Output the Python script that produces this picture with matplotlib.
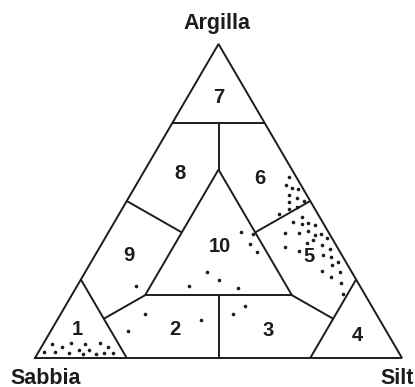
import numpy as np
import matplotlib
matplotlib.use("Agg")
import matplotlib.pyplot as plt

plt.rcParams['font.family'] = ['Liberation Sans', 'DejaVu Sans']

# Sample compositions in percent: sand (Sabbia), silt, clay (Argilla)
sand = [93.2, 90.9, 87.9, 84.2, 79.8, 78.2, 96.7, 93.5, 89.8, 86.8, 83.9, 82.7, 80.3, 77.9, 86.2,
        1.9, 4.1, 3.1, 1.4, 4.8, 3.0, 1.6, 5.9, 4.6, 7.0, 10.6,
        8.1, 6.0, 4.0, 2.5, 12.0, 8.2, 5.5, 4.1, 2.4, 1.5, 7.5, 5.4, 3.9, 14.2, 11.0, 2.2, 5.2,
        3.1, 2.1, 4.4, 8.0, 3.2, 6.3, 4.8, 6.0, 4.8,
        24.0, 20.8, 23.3, 22.6, 39.4, 37.4, 46.6, 33.5,
        61.1, 63.1, 48.8, 70.3, 39.0, 34.3]
silt = [2.4, 5.6, 7.4, 11.4, 15.3, 18.2, 1.5, 4.5, 8.5, 10.7, 13.6, 16.0, 18.0, 20.6, 12.6,
        40.4, 40.8, 42.9, 44.8, 43.3, 46.0, 48.3, 44.5, 47.2, 45.6, 43.6,
        48.5, 51.3, 53.0, 55.1, 48.2, 52.1, 54.1, 56.7, 58.0, 60.4, 55.8, 57.0, 60.1, 50.4, 55.0, 63.0, 62.0,
        64.6, 67.2, 66.0, 64.2, 69.3, 67.8, 71.4, 73.6, 50.2,
        36.0, 39.8, 40.5, 43.8, 33.1, 37.8, 30.5, 44.3,
        16.0, 23.0, 39.1, 21.1, 47.0, 49.0]
clay = [4.4, 3.5, 4.7, 4.4, 4.9, 3.6, 1.8, 2.0, 1.7, 2.5, 2.5, 1.3, 1.7, 1.5, 1.2,
        57.7, 55.1, 54.0, 53.8, 51.9, 51.0, 50.1, 49.6, 48.2, 47.4, 45.8,
        43.4, 42.7, 43.0, 42.4, 39.8, 39.7, 40.4, 39.2, 39.6, 38.1, 36.7, 37.6, 36.0, 35.4, 34.0, 34.8, 32.8,
        32.3, 30.7, 29.6, 27.8, 27.5, 25.9, 23.8, 20.4, 45.0,
        40.0, 39.4, 36.2, 33.6, 27.5, 24.8, 22.9, 22.2,
        22.9, 13.9, 12.1, 8.6, 14.0, 16.7]

# Class numbers and where they are written (x, y in the triangle frame)
class_labels = ['7', '8', '6', '10', '9', '5', '1', '2', '3', '4']
class_pos = [(0.501, 0.831), (0.395, 0.586), (0.613, 0.573), (0.504, 0.354), (0.256, 0.328),
             (0.747, 0.322), (0.114, 0.092), (0.381, 0.092), (0.635, 0.089), (0.877, 0.073)]

# Class boundaries as pairs of (sand, silt, clay) compositions
boundaries = [
    ((25, 0, 75), (0, 25, 75)),          # clay 75 %
    ((12.5, 12.5, 75), (20, 20, 60)),    # 8 | 6
    ((20, 20, 60), (60, 20, 20)),        # central triangle
    ((60, 20, 20), (20, 60, 20)),
    ((20, 60, 20), (20, 20, 60)),
    ((50, 0, 50), (40, 20, 40)),         # 8 | 9
    ((0, 50, 50), (20, 40, 40)),         # 6 | 5
    ((60, 20, 20), (75, 12.5, 12.5)),    # 9 | 2
    ((20, 60, 20), (12.5, 75, 12.5)),    # 5 | 3
    ((40, 40, 20), (50, 50, 0)),         # 2 | 3
    ((75, 25, 0), (75, 0, 25)),          # sand 75 %
    ((0, 75, 25), (25, 75, 0)),          # silt 75 %
]


def tern(sa, si, cl):
    tot = np.asarray(sa, float) + np.asarray(si, float) + np.asarray(cl, float)
    si = np.asarray(si, float) / tot
    cl = np.asarray(cl, float) / tot
    return si + cl / 2.0, cl


W, H = 415, 387
fig = plt.figure(figsize=(W / 100, H / 100), dpi=100)
ax = fig.add_axes([0, 0, 1, 1])
x0, xs = 35, 367
y0, ys = 358, 314
ax.set_xlim(-x0 / xs, (W - x0) / xs)
ax.set_ylim((y0 - H) / ys, y0 / ys)
ax.axis('off')

ink = '#1c1c1c'
lw = 1.4
# outer triangle
ox, oy = tern([100, 0, 0, 100], [0, 100, 0, 0], [0, 0, 100, 0])
ax.plot(ox, oy, color=ink, lw=lw, solid_joinstyle='miter', clip_on=False)

for a, b in boundaries:
    bx, by = tern([a[0], b[0]], [a[1], b[1]], [a[2], b[2]])
    ax.plot(bx, by, color=ink, lw=lw, solid_capstyle='butt')

px, py = tern(sand, silt, clay)
ax.plot(px, py, 'o', color=ink, ms=2.6, mew=0, ls='none')

for lab, (lx, ly) in zip(class_labels, class_pos):
    ax.text(lx, ly, lab, ha='center', va='center', fontsize=14.5, fontweight='bold', color=ink)

fig.text(217 / W, 1 - 23 / H, 'Argilla', ha='center', va='center', fontsize=15.5,
         fontweight='bold', color=ink)
fig.text(46 / W, 1 - 378 / H, 'Sabbia', ha='center', va='center', fontsize=15.5,
         fontweight='bold', color=ink)
fig.text(397 / W, 1 - 378 / H, 'Silt', ha='center', va='center', fontsize=15.5,
         fontweight='bold', color=ink)

fig.savefig('out.png', dpi=100, facecolor='white')
